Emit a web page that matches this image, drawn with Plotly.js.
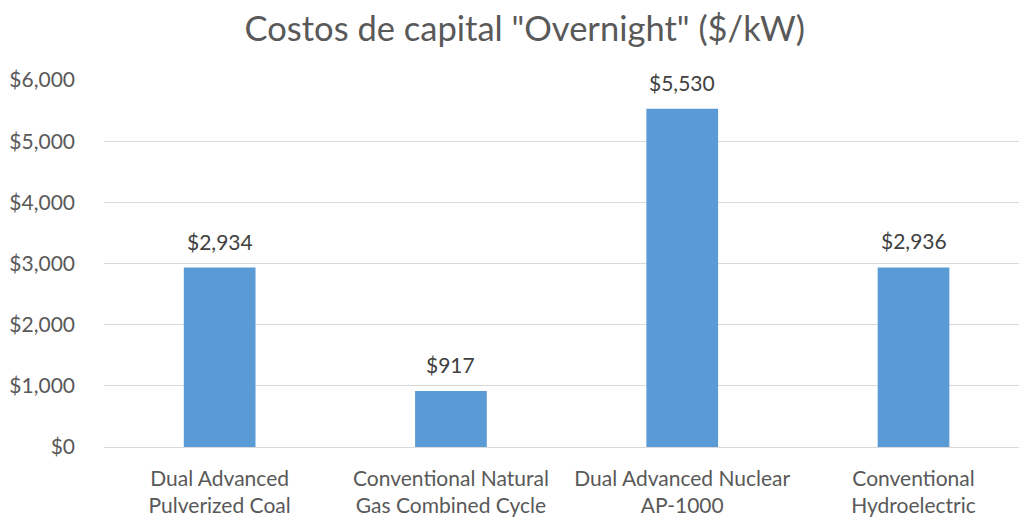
<!DOCTYPE html>
<html>
<head>
<meta charset="utf-8">
<script src="https://cdn.plot.ly/plotly-3.0.1.min.js"></script>
<style>html,body{margin:0;padding:0;background:#fff;}#chart{width:1019px;height:518px;}</style>
</head>
<body>
<div id="chart"></div>
<script>
const categories = ["Dual Advanced<br>Pulverized Coal", "Conventional Natural<br>Gas Combined Cycle", "Dual Advanced Nuclear<br>AP-1000", "Conventional<br>Hydroelectric"];
const costs = [2934, 917, 5530, 2936];
const yTicks = [0, 1000, 2000, 3000, 4000, 5000, 6000];
const yTickLabels = ["$0", "$1,000", "$2,000", "$3,000", "$4,000", "$5,000", "$6,000"];

const font = "Lato, 'Open Sans', sans-serif";
const labels = categories.map((c, i) => ({
  x: c, y: costs[i], xref: "x", yref: "y",
  text: "$" + costs[i].toLocaleString("en-US"),
  showarrow: false, yanchor: "bottom", yshift: 12,
  font: {family: font, size: 21, color: "#404040"}
}));
Plotly.newPlot("chart", [{
  type: "bar",
  x: categories,
  y: costs,
  marker: {color: "#5b9bd5"},
  hoverinfo: "none"
}], {
  width: 1019, height: 518,
  margin: {l: 104, r: 0, t: 80, b: 71},
  paper_bgcolor: "#fff", plot_bgcolor: "#fff",
  bargap: 0.69,
  annotations: labels,
  title: {text: 'Costos de capital "Overnight" ($/kW)', font: {family: font, size: 34.5, color: "#595959"}, x: 0.515, xanchor: "center", y: 0.945, yanchor: "middle", yref: "container"},
  xaxis: {range: [-0.5, 3.456], tickfont: {family: font, size: 21, color: "#595959"}, showline: false, ticks: "", showgrid: false, zeroline: false, ticklabelstandoff: 17},
  yaxis: {range: [0, 6000], tickvals: yTicks, ticktext: yTickLabels, tickfont: {family: font, size: 21, color: "#595959"}, gridcolor: "#d9d9d9", gridwidth: 1, zeroline: true, zerolinecolor: "#d9d9d9", zerolinewidth: 1, showline: false, ticks: "", ticklabelstandoff: 28},
  showlegend: false
}, {displayModeBar: false, staticPlot: true});
</script>
</body>
</html>
